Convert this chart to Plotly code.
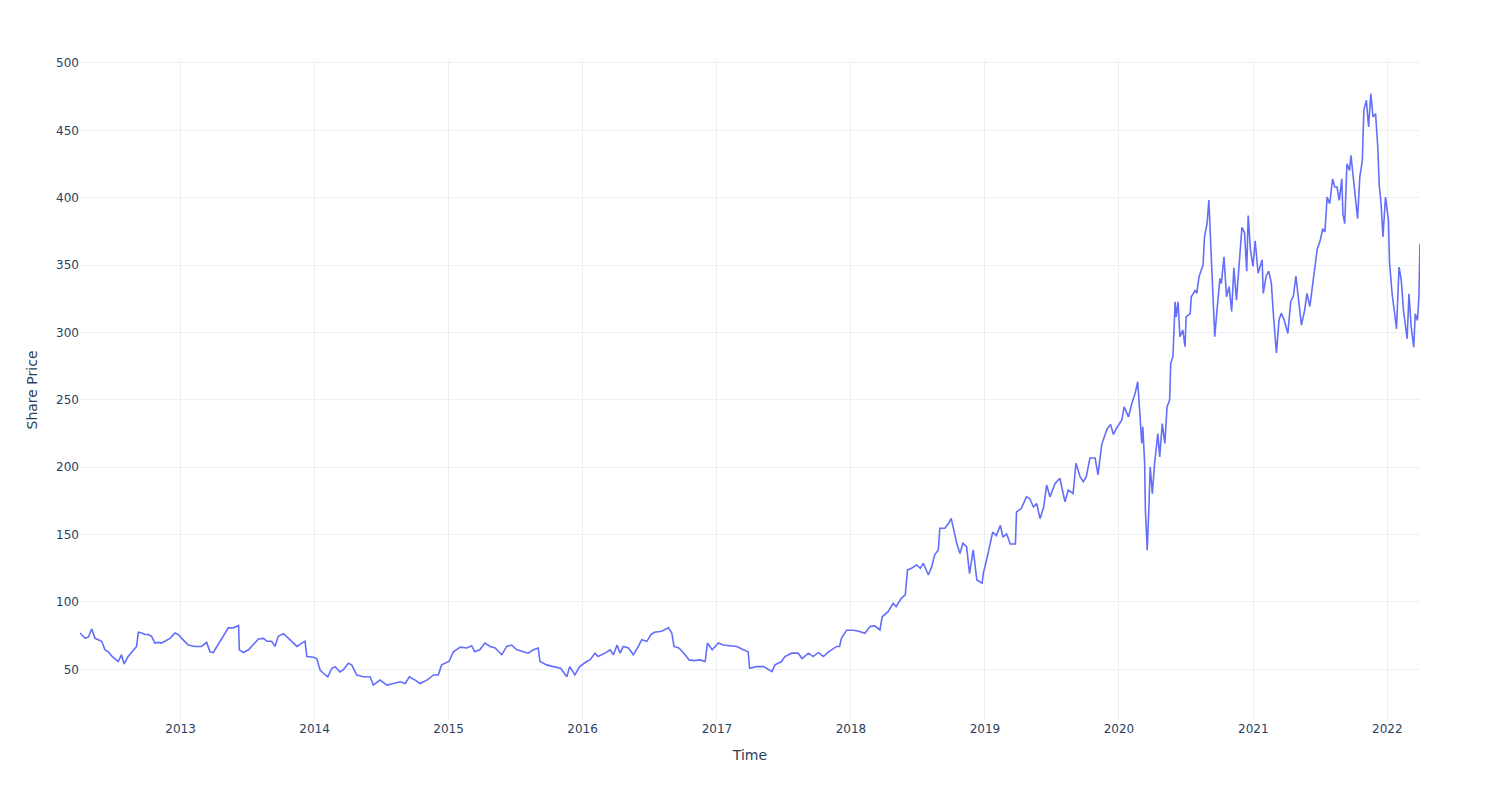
import plotly.graph_objects as go

dates = [
"2012-04-02","2012-04-06","2012-04-16","2012-04-25","2012-05-04","2012-05-13","2012-05-22","2012-05-31",
"2012-06-09","2012-06-18","2012-06-27","2012-07-06","2012-07-15","2012-07-24","2012-07-31","2012-08-11",
"2012-08-25","2012-09-03","2012-09-08","2012-09-17","2012-09-26","2012-10-05","2012-10-14","2012-10-23",
"2012-11-01","2012-11-10","2012-11-19","2012-12-03","2012-12-17","2012-12-26","2013-01-04","2013-01-13",
"2013-01-22","2013-02-09","2013-02-27","2013-03-13","2013-03-22","2013-03-31","2013-04-10","2013-04-19",
"2013-04-28","2013-05-11","2013-05-25","2013-06-08","2013-06-10","2013-06-21","2013-07-05","2013-07-18",
"2013-08-01","2013-08-15","2013-08-24","2013-09-06","2013-09-15","2013-09-24","2013-10-08","2013-10-22",
"2013-11-04","2013-11-14","2013-11-27","2013-12-06","2013-12-11","2013-12-29","2014-01-07","2014-01-16",
"2014-01-30","2014-02-06","2014-02-17","2014-02-26","2014-03-11","2014-03-20","2014-04-03","2014-04-12",
"2014-04-26","2014-05-14","2014-06-01","2014-06-10","2014-06-28","2014-07-17","2014-08-04","2014-08-22",
"2014-09-05","2014-09-16","2014-10-02","2014-10-15","2014-11-03","2014-11-21","2014-12-04","2014-12-13",
"2015-01-02","2015-01-14","2015-02-02","2015-02-20","2015-03-05","2015-03-13","2015-03-27","2015-04-10",
"2015-04-24","2015-05-08","2015-05-26","2015-06-08","2015-06-22","2015-07-06","2015-07-24","2015-08-06",
"2015-08-20","2015-09-02","2015-09-07","2015-09-25","2015-10-13","2015-11-02","2015-11-19","2015-11-27",
"2015-12-11","2015-12-24","2016-01-12","2016-01-21","2016-02-04","2016-02-12","2016-03-02","2016-03-16",
"2016-03-25","2016-04-04","2016-04-12","2016-04-21","2016-05-05","2016-05-18","2016-06-01","2016-06-10",
"2016-06-24","2016-07-05","2016-07-15","2016-08-03","2016-08-22","2016-08-31","2016-09-06","2016-09-19",
"2016-10-03","2016-10-17","2016-10-31","2016-11-16","2016-11-30","2016-12-06","2016-12-19","2017-01-05",
"2017-01-18","2017-02-06","2017-02-24","2017-03-14","2017-03-27","2017-03-31","2017-04-19","2017-05-08",
"2017-05-22","2017-05-31","2017-06-08","2017-06-26","2017-07-05","2017-07-24","2017-08-10","2017-08-21",
"2017-09-07","2017-09-20","2017-10-04","2017-10-18","2017-11-01","2017-11-09","2017-11-23","2017-12-01",
"2017-12-06","2017-12-20","2018-01-08","2018-01-22","2018-02-08","2018-02-22","2018-03-07","2018-03-21",
"2018-03-27","2018-04-12","2018-04-26","2018-05-04","2018-05-18","2018-05-29","2018-06-04","2018-06-15",
"2018-06-29","2018-07-09","2018-07-17","2018-07-31","2018-08-09","2018-08-17","2018-08-27","2018-08-31",
"2018-09-14","2018-09-24","2018-10-01","2018-10-08","2018-10-16","2018-10-25","2018-11-02","2018-11-12",
"2018-11-20","2018-11-30","2018-12-10","2018-12-24","2018-12-28","2019-01-07","2019-01-15","2019-01-22",
"2019-02-01","2019-02-12","2019-02-19","2019-03-01","2019-03-11","2019-03-25","2019-03-28","2019-04-10",
"2019-04-24","2019-05-03","2019-05-13","2019-05-22","2019-05-31","2019-06-10","2019-06-18","2019-06-27",
"2019-07-11","2019-07-24","2019-08-02","2019-08-07","2019-08-16","2019-08-29","2019-09-06","2019-09-17",
"2019-09-26","2019-10-04","2019-10-14","2019-10-28","2019-11-05","2019-11-15","2019-11-29","2019-12-09",
"2019-12-17","2019-12-26","2020-01-09","2020-01-15","2020-01-27","2020-02-05","2020-02-14","2020-02-21",
"2020-02-27","2020-03-03","2020-03-06","2020-03-11","2020-03-13","2020-03-18","2020-03-23","2020-03-26",
"2020-04-01","2020-04-07","2020-04-16","2020-04-21","2020-04-28","2020-05-05","2020-05-11","2020-05-18",
"2020-05-21","2020-05-27","2020-06-02","2020-06-05","2020-06-10","2020-06-15","2020-06-23","2020-06-29",
"2020-07-02","2020-07-13","2020-07-16","2020-07-27","2020-07-31","2020-08-06","2020-08-17","2020-08-21",
"2020-08-28","2020-09-02","2020-09-08","2020-09-14","2020-09-18","2020-09-24","2020-10-02","2020-10-06",
"2020-10-13","2020-10-20","2020-10-27","2020-11-03","2020-11-09","2020-11-16","2020-11-23","2020-12-01",
"2020-12-08","2020-12-14","2020-12-18","2020-12-24","2020-12-31","2021-01-06","2021-01-14","2021-01-25",
"2021-01-28","2021-02-05","2021-02-12","2021-02-19","2021-02-25","2021-03-05","2021-03-12","2021-03-18",
"2021-03-26","2021-04-05","2021-04-13","2021-04-20","2021-04-27","2021-05-04","2021-05-12","2021-05-21",
"2021-05-27","2021-06-04","2021-06-11","2021-06-17","2021-06-24","2021-07-02","2021-07-09","2021-07-15",
"2021-07-21","2021-07-28","2021-08-05","2021-08-11","2021-08-17","2021-08-23","2021-08-30","2021-09-02",
"2021-09-07","2021-09-13","2021-09-20","2021-09-24","2021-09-30","2021-10-04","2021-10-12","2021-10-18",
"2021-10-25","2021-10-29","2021-11-05","2021-11-11","2021-11-17","2021-11-23","2021-11-30","2021-12-06",
"2021-12-10","2021-12-15","2021-12-20","2021-12-27","2022-01-04","2022-01-07","2022-01-14","2022-01-21",
"2022-01-26","2022-02-02","2022-02-08","2022-02-14","2022-02-18","2022-02-24","2022-03-01","2022-03-07",
"2022-03-14","2022-03-18","2022-03-24","2022-03-28","2022-03-31",
]

prices = [
77.0,75.8,73.0,74.0,80.0,73.0,72.0,70.8,
64.5,63.0,60.0,58.0,55.8,60.8,54.0,59.5,
64.5,67.0,77.5,77.0,75.8,75.8,74.5,69.5,
70.0,69.5,70.8,73.0,77.0,75.8,73.0,70.8,
68.0,67.0,67.0,70.0,63.0,62.5,67.0,70.8,
75.8,80.8,80.8,82.5,64.5,62.5,64.5,68.0,
72.5,73.0,70.8,70.8,67.0,74.5,76.5,73.0,
69.5,67.0,69.5,70.8,59.5,59.0,58.0,49.5,
45.8,44.5,50.8,52.0,48.0,49.5,54.5,53.3,
45.8,44.5,44.5,38.3,42.0,38.3,39.5,40.8,
39.5,44.5,42.0,39.5,42.0,45.8,45.8,53.3,
55.8,63.0,66.5,65.8,67.5,63.0,64.5,69.5,
67.0,65.8,60.8,67.0,68.0,64.5,63.0,62.0,
64.5,65.8,55.8,53.3,52.0,50.8,44.5,52.0,
45.8,52.0,55.8,57.0,62.0,59.5,62.0,64.5,
60.8,68.0,62.0,67.0,65.8,60.8,67.0,72.0,
70.8,75.8,77.5,78.3,80.8,77.0,67.0,65.8,
62.0,57.0,56.5,57.0,55.8,69.5,64.5,69.5,
68.0,67.5,67.0,64.5,63.0,50.8,52.0,52.0,
49.5,48.3,53.3,55.8,59.5,62.0,62.0,58.0,
62.0,59.5,62.5,59.5,63.0,64.5,67.0,67.0,
73.0,79.0,79.0,78.3,76.7,81.7,82.2,79.2,
89.0,92.8,99.0,96.5,102.7,105.2,123.8,125.0,
127.5,125.0,128.7,120.0,126.2,135.0,138.6,154.7,
154.7,158.4,162.0,153.5,143.6,136.0,143.6,141.0,
121.0,138.6,116.3,113.9,121.8,133.0,143.0,151.8,
149.3,156.8,148.0,150.5,143.0,143.0,166.8,169.3,
178.0,176.8,170.5,173.0,161.8,170.5,186.8,178.0,
188.0,191.8,180.5,174.3,183.0,180.5,203.0,193.0,
189.3,193.0,206.8,206.8,194.3,216.8,228.0,231.8,
224.3,229.3,235.0,244.8,237.4,247.3,254.7,263.4,
239.9,217.6,230.0,202.7,168.0,138.4,173.0,200.2,
180.4,202.7,225.0,207.7,232.4,217.6,244.8,249.8,
277.0,282.0,322.8,311.6,322.8,296.8,301.7,289.4,
311.6,314.0,326.5,331.4,329.0,341.3,350.0,371.0,
381.0,398.3,358.7,316.6,296.8,316.6,340.0,336.4,
356.2,326.5,334.0,315.5,348.0,324.0,346.8,378.0,
374.0,345.5,386.8,361.8,349.0,368.0,344.0,354.0,
329.0,341.8,345.5,336.8,311.8,284.8,309.3,314.3,
309.3,299.3,323.0,326.8,341.8,326.8,305.5,316.8,
329.0,319.3,334.0,349.0,361.8,368.0,377.0,374.5,
400.5,395.5,414.0,408.0,408.0,398.0,414.0,388.0,
380.7,425.2,420.3,431.4,415.3,400.5,384.4,415.3,
427.7,464.9,472.3,452.5,477.2,459.9,462.4,437.6,
409.2,395.5,370.8,400.5,383.2,352.2,328.7,313.9,
302.7,348.5,338.6,316.3,308.9,295.3,328.7,304.0,
289.1,313.9,308.9,326.2,365.8,
]

fig = go.Figure(
    go.Scatter(x=dates, y=prices, mode="lines", line=dict(color="#636efa", width=1.6))
)
fig.update_layout(
    template="plotly_white",
    width=1500,
    height=800,
    margin=dict(l=80, r=80, t=60, b=80),
    font=dict(family="DejaVu Sans, sans-serif"),
    xaxis=dict(title=dict(text="Time")),
    yaxis=dict(title=dict(text="Share Price"), range=[12.4, 502.2], dtick=50),
    showlegend=False,
)
fig.write_html("out.html")
